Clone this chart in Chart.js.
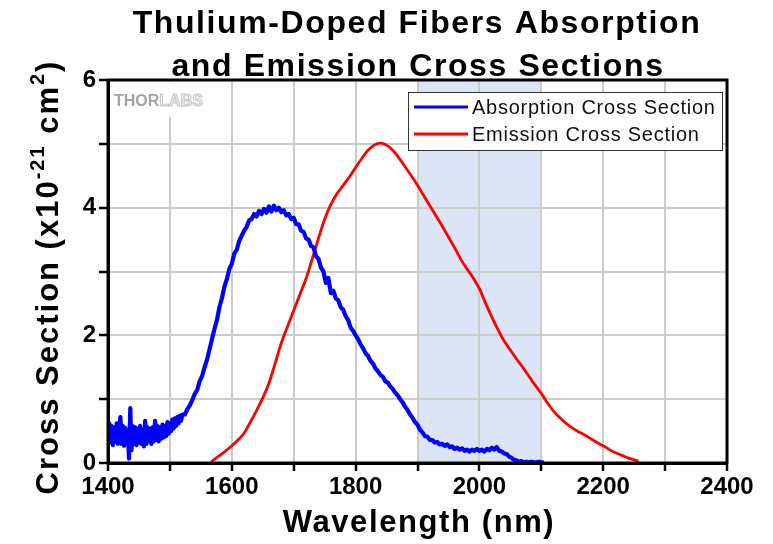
<!DOCTYPE html>
<html>
<head>
<meta charset="utf-8">
<script src="https://cdn.jsdelivr.net/npm/chart.js@4.4.1/dist/chart.umd.min.js"></script>
<style>
  html, body { margin: 0; padding: 0; background: #ffffff; }
  #wrap { width: 773px; height: 544px; }
</style>
</head>
<body>
<div id="wrap"><canvas id="c" width="773" height="544"></canvas></div>
<script>
// ---- chart text ----
const titleLines = ['Thulium-Doped Fibers Absorption', 'and Emission Cross Sections'];
const xTitle = 'Wavelength (nm)';
const yTitleParts = ['Cross Section (x10', '-21', ' cm', '2', ')'];
const seriesNames = ['Absorption Cross Section', 'Emission Cross Section'];
const xTickLabels = [1400, 1600, 1800, 2000, 2200, 2400];
const yTickLabels = [0, 2, 4, 6];
const highlightBand = [1900, 2100];

// ---- absorption cross section (x1e-21 cm^2) ----
const absWavelength = [
  1400,1402,1404,1406,1408,1410,1412,1414,1416,1418,1420,1422,1424,1426,1428,1430,1432,1434,1436,1438,
  1440,1442,1444,1446,1448,1450,1452,1454,1456,1458,1460,1462,1464,1466,1468,1470,1472,1474,1476,1478,
  1480,1482,1484,1486,1488,1490,1492,1494,1496,1498,1500,1502,1504,1506,1508,1510,1512,1514,1516,1518,1520,
  1524,1528,1532,1536,1540,1544,1548,1552,1556,1560,1564,1568,1572,1576,1580,1584,1588,1592,1596,1600,
  1604,1608,1612,1616,1620,1624,1628,1632,1636,1640,1644,1648,1652,1656,1660,1664,1668,1672,1676,1680,
  1684,1688,1692,1696,1700,1704,1708,1712,1716,1720,1724,1728,1732,1736,1740,1744,1748,1752,1756,1760,
  1764,1768,1772,1776,1780,1784,1788,1792,1796,1800,1804,1808,1812,1816,1820,1824,1828,1832,1836,1840,
  1844,1848,1852,1856,1860,1864,1868,1872,1876,1880,1884,1888,1892,1896,1900,1904,1908,1912,1916,1920,
  1924,1928,1932,1936,1940,1944,1948,1952,1956,1960,1964,1968,1972,1976,1980,1984,1988,1992,1996,2000,
  2004,2008,2012,2016,2020,2024,2028,2032,2036,2040,2044,2048,2052,2056,2060,2064,2068,2072,2076,2080,
  2084,2088,2092,2096,2100,2104
];
const absValue = [
  0.30,0.62,0.32,0.58,0.28,0.55,0.33,0.62,0.30,0.52,0.72,0.30,0.58,0.27,0.55,0.36,0.50,0.07,0.86,0.20,
  0.58,0.30,0.56,0.28,0.54,0.32,0.58,0.30,0.52,0.26,0.66,0.30,0.56,0.34,0.54,0.30,0.56,0.34,0.66,0.36,
  0.58,0.34,0.56,0.38,0.60,0.40,0.58,0.42,0.64,0.46,0.62,0.50,0.68,0.54,0.70,0.58,0.72,0.62,0.74,0.66,0.76,
  0.76,0.84,0.90,0.98,1.08,1.14,1.28,1.36,1.50,1.62,1.78,1.94,2.10,2.24,2.44,2.58,2.76,2.88,3.04,3.12,
  3.28,3.34,3.48,3.56,3.64,3.70,3.80,3.82,3.90,3.86,3.95,3.90,3.98,3.92,4.02,3.94,4.03,3.96,4.00,3.93,
  3.96,3.88,3.90,3.82,3.84,3.74,3.74,3.64,3.62,3.52,3.50,3.40,3.38,3.24,3.20,3.06,3.00,2.82,2.90,2.66,
  2.70,2.58,2.55,2.44,2.40,2.30,2.24,2.12,2.07,2.00,1.94,1.86,1.80,1.72,1.68,1.60,1.56,1.48,1.44,1.38,
  1.35,1.28,1.26,1.20,1.16,1.10,1.06,1.00,0.95,0.88,0.83,0.76,0.71,0.64,0.60,0.52,0.48,0.42,0.41,0.36,
  0.36,0.32,0.33,0.29,0.30,0.27,0.29,0.25,0.26,0.22,0.24,0.21,0.23,0.19,0.21,0.18,0.21,0.19,0.22,0.19,
  0.21,0.18,0.22,0.20,0.24,0.21,0.25,0.19,0.18,0.15,0.14,0.10,0.08,0.05,0.04,0.02,0.03,0.01,0.02,0.01,
  0.02,0.01,0.01,0.02,0.01,0.01
];

// ---- emission cross section (x1e-21 cm^2) ----
const emWavelength = [
  1567,1575,1585,1600,1610,1620,1630,1640,1650,1660,1670,1680,1690,1700,1710,1720,1730,1740,1750,1760,
  1770,1780,1790,1800,1810,1820,1830,1840,1850,1860,1870,1880,1890,1900,1910,1920,1930,1940,1950,1960,
  1970,1980,1990,2000,2010,2020,2030,2040,2050,2060,2070,2080,2090,2100,2110,2120,2130,2140,2150,2160,
  2170,2180,2190,2200,2210,2220,2230,2240,2250,2257
];
const emValue = [
  0.02,0.08,0.15,0.27,0.36,0.47,0.64,0.82,1.02,1.25,1.56,1.88,2.14,2.39,2.64,2.89,3.20,3.52,3.82,4.05,
  4.22,4.35,4.48,4.63,4.77,4.90,4.98,5.01,4.98,4.90,4.78,4.64,4.50,4.35,4.19,4.03,3.87,3.71,3.54,3.37,
  3.19,3.04,2.90,2.73,2.50,2.29,2.09,1.91,1.77,1.63,1.50,1.36,1.22,1.09,0.94,0.81,0.71,0.62,0.55,0.49,
  0.44,0.38,0.32,0.27,0.21,0.16,0.12,0.08,0.05,0.03
];

const seriesColors = ['#0000ff', '#ff0000'];
const FONT = '"Liberation Sans", Arial, sans-serif';

const toPoints = (xs, ys) => xs.map((x, i) => ({ x: x, y: ys[i] }));

// white page, shaded wavelength band beneath the grid
const backdrop = {
  id: 'backdrop',
  beforeDraw(chart) {
    const { ctx, chartArea: a, scales: { x } } = chart;
    ctx.save();
    ctx.fillStyle = '#ffffff';
    ctx.fillRect(0, 0, chart.width, chart.height);
    const x0 = x.getPixelForValue(highlightBand[0]);
    const x1 = x.getPixelForValue(highlightBand[1]);
    ctx.fillStyle = '#dbe5f6';
    ctx.fillRect(x0, a.top, x1 - x0, a.bottom - a.top);
    ctx.restore();
  },
  beforeDatasetsDraw(chart) {
    // logo patch in the upper-left corner of the plot
    const { ctx, chartArea: a } = chart;
    ctx.save();
    ctx.fillStyle = '#ffffff';
    ctx.fillRect(a.left + 2, a.top + 2, 105, 35);
    ctx.font = 'bold 16px ' + FONT;
    ctx.textBaseline = 'alphabetic';
    ctx.textAlign = 'left';
    ctx.fillStyle = '#a4a4a4';
    ctx.fillText('THOR', a.left + 6, a.top + 26);
    const w = ctx.measureText('THOR').width;
    ctx.fillStyle = '#f2f2f2';
    ctx.strokeStyle = '#c4c4c4';
    ctx.lineWidth = 1;
    ctx.fillText('LABS', a.left + 6 + w, a.top + 26);
    ctx.strokeText('LABS', a.left + 6 + w, a.top + 26);
    ctx.restore();
  }
};

// frame, legend box and titles
const decorations = {
  id: 'decorations',
  afterDatasetsDraw(chart) {
    const { ctx, chartArea: a } = chart;
    ctx.save();
    ctx.strokeStyle = '#000000';
    ctx.lineWidth = 3;
    ctx.strokeRect(a.left, a.top, a.right - a.left, a.bottom - a.top);
    ctx.restore();
  },
  afterDraw(chart) {
    const { ctx } = chart;
    ctx.save();

    // legend
    const lx = 408, ly = 92, lw = 314, lh = 58;
    ctx.fillStyle = '#ffffff';
    ctx.fillRect(lx, ly, lw, lh);
    ctx.strokeStyle = '#333333';
    ctx.lineWidth = 1;
    ctx.strokeRect(lx + 0.5, ly + 0.5, lw, lh);
    ctx.font = '20px ' + FONT;
    ctx.letterSpacing = '0.75px';
    ctx.textBaseline = 'middle';
    ctx.textAlign = 'left';
    seriesNames.forEach((name, i) => {
      const yy = ly + 15 + i * 27;
      ctx.strokeStyle = seriesColors[i];
      ctx.lineWidth = 3;
      ctx.beginPath();
      ctx.moveTo(lx + 6, yy);
      ctx.lineTo(lx + 60, yy);
      ctx.stroke();
      ctx.fillStyle = '#111111';
      ctx.fillText(name, lx + 64, yy + 1);
    });

    // chart title
    ctx.fillStyle = '#000000';
    ctx.textAlign = 'center';
    ctx.textBaseline = 'alphabetic';
    ctx.font = 'bold 32px ' + FONT;
    ctx.letterSpacing = '1.6px';
    ctx.fillText(titleLines[0], 417, 33);
    ctx.fillText(titleLines[1], 418, 76);

    // x axis title
    ctx.font = 'bold 31px ' + FONT;
    ctx.letterSpacing = '1.6px';
    ctx.fillText(xTitle, 419, 532);

    // y axis title with superscripts, read bottom to top
    ctx.translate(58, 277);
    ctx.rotate(-Math.PI / 2);
    ctx.textAlign = 'left';
    const big = 'bold 31px ' + FONT, small = 'bold 20px ' + FONT;
    ctx.letterSpacing = '2px';
    const parts = yTitleParts.map((t, i) => ({ t, sup: i === 1 || i === 3 }));
    let total = 0;
    parts.forEach(p => { ctx.font = p.sup ? small : big; p.w = ctx.measureText(p.t).width; total += p.w; });
    let cx = -total / 2;
    parts.forEach(p => {
      ctx.font = p.sup ? small : big;
      ctx.fillText(p.t, cx, p.sup ? -14 : 0);
      cx += p.w;
    });
    ctx.restore();
  }
};

const tickFont = { family: FONT, size: 24, weight: 'bold' };

new Chart(document.getElementById('c'), {
  type: 'line',
  data: {
    datasets: [
      {
        label: seriesNames[0],
        data: toPoints(absWavelength, absValue),
        borderColor: seriesColors[0],
        borderWidth: 4.2,
        borderJoinStyle: 'round',
        pointRadius: 0,
        tension: 0,
        fill: false
      },
      {
        label: seriesNames[1],
        data: toPoints(emWavelength, emValue),
        borderColor: seriesColors[1],
        borderWidth: 2.8,
        pointRadius: 0,
        cubicInterpolationMode: 'monotone',
        fill: false
      }
    ]
  },
  options: {
    responsive: false,
    animation: false,
    devicePixelRatio: 1,
    layout: { padding: { top: 80, right: 46, left: 0, bottom: 0 } },
    plugins: {
      legend: { display: false },
      title: { display: false },
      tooltip: { enabled: false }
    },
    scales: {
      x: {
        type: 'linear',
        min: 1400,
        max: 2400,
        ticks: {
          stepSize: 100,
          autoSkip: false,
          maxRotation: 0,
          color: '#000000',
          font: tickFont,
          padding: 2,
          callback: v => (xTickLabels.includes(v) ? String(v) : '')
        },
        grid: { color: '#cccccc', lineWidth: 2, drawTicks: true, tickLength: 8, tickColor: '#000000', tickWidth: 2.5 },
        border: { display: true, color: '#000000', width: 3 },
        afterFit: s => { s.height = 81; }
      },
      y: {
        type: 'linear',
        min: 0,
        max: 6,
        ticks: {
          stepSize: 1,
          color: '#000000',
          font: tickFont,
          padding: 3,
          callback: v => (yTickLabels.includes(v) ? String(v) : '')
        },
        grid: { color: '#cccccc', lineWidth: 2, drawTicks: true, tickLength: 9, tickColor: '#000000', tickWidth: 2.5 },
        border: { display: true, color: '#000000', width: 3 },
        afterFit: s => { s.width = 108; }
      }
    }
  },
  plugins: [backdrop, decorations]
});
</script>
</body>
</html>
